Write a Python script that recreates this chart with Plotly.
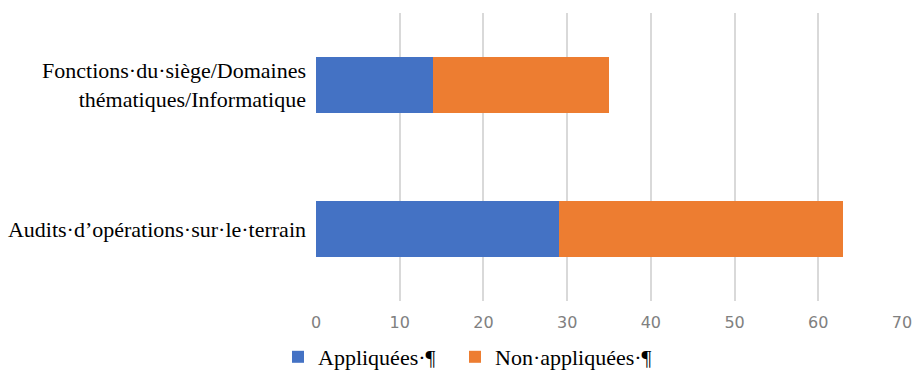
import plotly.graph_objects as go

categories = ["Audits·d’opérations·sur·le·terrain",
              "Fonctions·du·siège/Domaines<br>thématiques/Informatique"]
appliquees = [29, 14]
non_appliquees = [34, 21]
series_names = ["Appliquées·¶", "Non·appliquées·¶"]
x_ticks = [0, 10, 20, 30, 40, 50, 60, 70]

serif = "Liberation Serif, Times New Roman, serif"

fig = go.Figure()
fig.add_trace(go.Bar(y=categories, x=appliquees, name=series_names[0],
                     orientation="h", legend="legend",
                     marker=dict(color="#4472C4", line=dict(width=0))))
fig.add_trace(go.Bar(y=categories, x=non_appliquees, name=series_names[1],
                     orientation="h", legend="legend2",
                     marker=dict(color="#ED7D31", line=dict(width=0))))

legend_common = dict(orientation="h", xref="container", yref="container",
                     xanchor="left", yanchor="top",
                     font=dict(family=serif, size=22, color="#000000"),
                     bgcolor="rgba(0,0,0,0)")

fig.update_layout(
    width=915, height=371,
    barmode="stack", bargap=0.61,
    margin=dict(l=316, r=13, t=13, b=70, autoexpand=False),
    plot_bgcolor="white", paper_bgcolor="white",
    xaxis=dict(range=[0, 70], tickvals=x_ticks, showgrid=True, gridcolor="#d9d9d9",
               gridwidth=1.5, zeroline=False, showline=False, ticks="",
               automargin=False, ticklabelstandoff=10,
               tickfont=dict(family="DejaVu Sans", size=16, color="#808080")),
    yaxis=dict(showgrid=False, zeroline=False, showline=False, ticks="",
               automargin=False, ticklabelstandoff=9,
               tickfont=dict(family=serif, size=22, color="#000000")),
    legend=dict(x=278/915, y=1 - 336/371, **legend_common),
    legend2=dict(x=455/915, y=1 - 336/371, **legend_common),
    showlegend=True,
)

fig.write_html("out.html")
